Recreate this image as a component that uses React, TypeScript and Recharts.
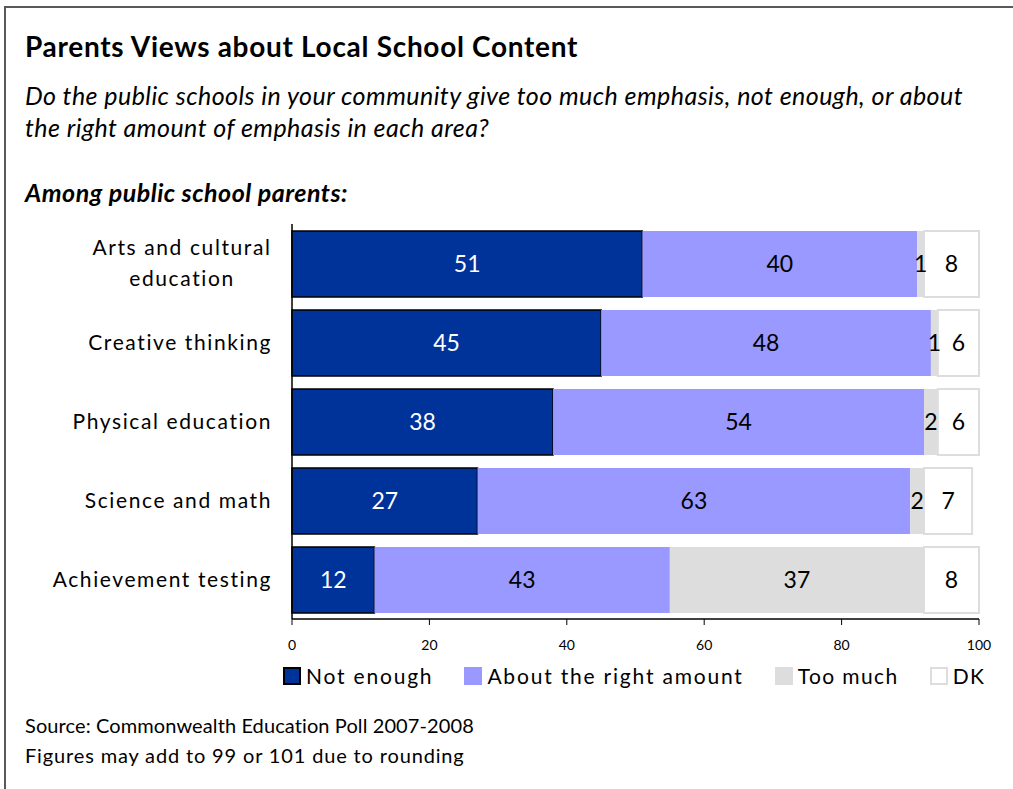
import React from 'react';
import { BarChart, Bar, XAxis, YAxis, LabelList } from 'recharts';

const categories = [
  'Arts and cultural\neducation',
  'Creative thinking',
  'Physical education',
  'Science and math',
  'Achievement testing',
];
const notEnough = [51, 45, 38, 27, 12];
const aboutRight = [40, 48, 54, 63, 43];
const tooMuch = [1, 1, 2, 2, 37];
const dk = [8, 6, 6, 7, 8];
const xTicks = [0, 20, 40, 60, 80, 100];

const seriesKeys = ['notEnough', 'aboutRight', 'tooMuch', 'dk'];
const seriesNames = ['Not enough', 'About the right amount', 'Too much', 'DK'];
const seriesFill = ['#003399', '#9999FF', '#DDDDDD', '#FFFFFF'];
const seriesStroke = ['#000000', 'none', 'none', '#DDDDDD'];
const seriesLabelColor = ['#FFFFFF', '#000000', '#000000', '#000000'];

const data = categories.map((name, i) => ({
  name,
  notEnough: notEnough[i],
  aboutRight: aboutRight[i],
  tooMuch: tooMuch[i],
  dk: dk[i],
}));

const FONT = 'Lato, "Open Sans", sans-serif';

const YTick = (props: any) => {
  const { y, payload } = props;
  const lines = String(payload.value).split('\n');
  if (lines.length === 1) {
    return (
      <text x={272} y={y} dy="0.35em" textAnchor="end" fontSize={21} letterSpacing={1.6} fill="#000" fontFamily={FONT}>
        {lines[0]}
      </text>
    );
  }
  return (
    <text x={182} y={y} textAnchor="middle" fontSize={21} letterSpacing={1.6} fill="#000" fontFamily={FONT}>
      {lines.map((l, i) => (
        <tspan key={i} x={182} y={y + (i - (lines.length - 1) / 2) * 31} dy="0.35em">
          {l}
        </tspan>
      ))}
    </text>
  );
};

export default function App() {
  return (
    <div
      style={{
        position: 'absolute',
        left: 0,
        top: 0,
        width: 1013,
        height: 789,
        overflow: 'hidden',
        background: '#fff',
        fontFamily: FONT,
        color: '#000',
      }}
    >
      <div
        style={{
          position: 'absolute',
          left: 4,
          top: 6,
          width: 1100,
          height: 900,
          border: '2px solid #595959',
        }}
      />
      <div style={{ position: 'absolute', left: 25, top: 31, fontSize: 28, fontWeight: 700, letterSpacing: 0.7, lineHeight: '30px', whiteSpace: 'nowrap' }}>
        Parents Views about Local School Content
      </div>
      <div style={{ position: 'absolute', left: 25, top: 79, fontSize: 25, fontStyle: 'italic', letterSpacing: 0.45, lineHeight: '32px', whiteSpace: 'nowrap' }}>
        Do the public schools in your community give too much emphasis, not enough, or about
        <br />
        the right amount of emphasis in each area?
      </div>
      <div style={{ position: 'absolute', left: 25, top: 176, fontSize: 25, fontStyle: 'italic', fontWeight: 700, letterSpacing: 0.5, lineHeight: '32px', whiteSpace: 'nowrap' }}>
        Among public school parents:
      </div>

      <div style={{ position: 'absolute', left: 0, top: 0 }}>
        <BarChart
          width={1013}
          height={789}
          data={data}
          layout="vertical"
          margin={{ top: 224, right: 34, bottom: 140, left: 0 }}
          barSize={66}
        >
          <XAxis
            type="number"
            domain={[0, 100]}
            ticks={xTicks}
            height={30}
            axisLine={{ stroke: '#000', strokeWidth: 1.5 }}
            tickLine={{ stroke: '#000' }}
            tickSize={6}
            tickMargin={15}
            tick={{ fontSize: 14, fill: '#000', fontFamily: FONT }}
            interval={0}
          />
          <YAxis
            type="category"
            dataKey="name"
            width={292}
            axisLine={{ stroke: '#000', strokeWidth: 1.5 }}
            tickLine={false}
            tick={<YTick />}
            interval={0}
          />
          {seriesKeys.map((k, i) => (
            <Bar
              key={k}
              dataKey={k}
              name={seriesNames[i]}
              stackId="a"
              fill={seriesFill[i]}
              stroke={seriesStroke[i]}
              strokeWidth={i === 0 ? 1.5 : 2}
              isAnimationActive={false}
            >
              <LabelList dataKey={k} position="center" fill={seriesLabelColor[i]} fontSize={23} fontFamily={FONT} />
            </Bar>
          ))}
        </BarChart>
      </div>

      <div
        style={{
          position: 'absolute',
          left: 283,
          top: 663,
          display: 'flex',
          alignItems: 'center',
          gap: 31,
          fontSize: 21,
          letterSpacing: 1.8,
          lineHeight: '26px',
          whiteSpace: 'nowrap',
        }}
      >
        {seriesNames.map((n, i) => (
          <div key={n} style={{ display: 'flex', alignItems: 'center' }}>
            <div
              style={{
                width: 14,
                height: 14,
                background: seriesFill[i],
                border: `2px solid ${i === 0 ? '#000' : i === 3 ? '#DDDDDD' : seriesFill[i]}`,
                marginRight: 5,
              }}
            />
            <span style={{ letterSpacing: i >= 2 ? 1.4 : 1.8 }}>{n}</span>
          </div>
        ))}
      </div>

      <div style={{ position: 'absolute', left: 25, top: 710, fontSize: 20, letterSpacing: 0.1, lineHeight: '30px', whiteSpace: 'nowrap' }}>
        Source: Commonwealth Education Poll 2007-2008
      </div>
      <div style={{ position: 'absolute', left: 25, top: 740, fontSize: 20, letterSpacing: 0.85, lineHeight: '30px', whiteSpace: 'nowrap' }}>
        Figures may add to 99 or 101 due to rounding
      </div>
    </div>
  );
}
